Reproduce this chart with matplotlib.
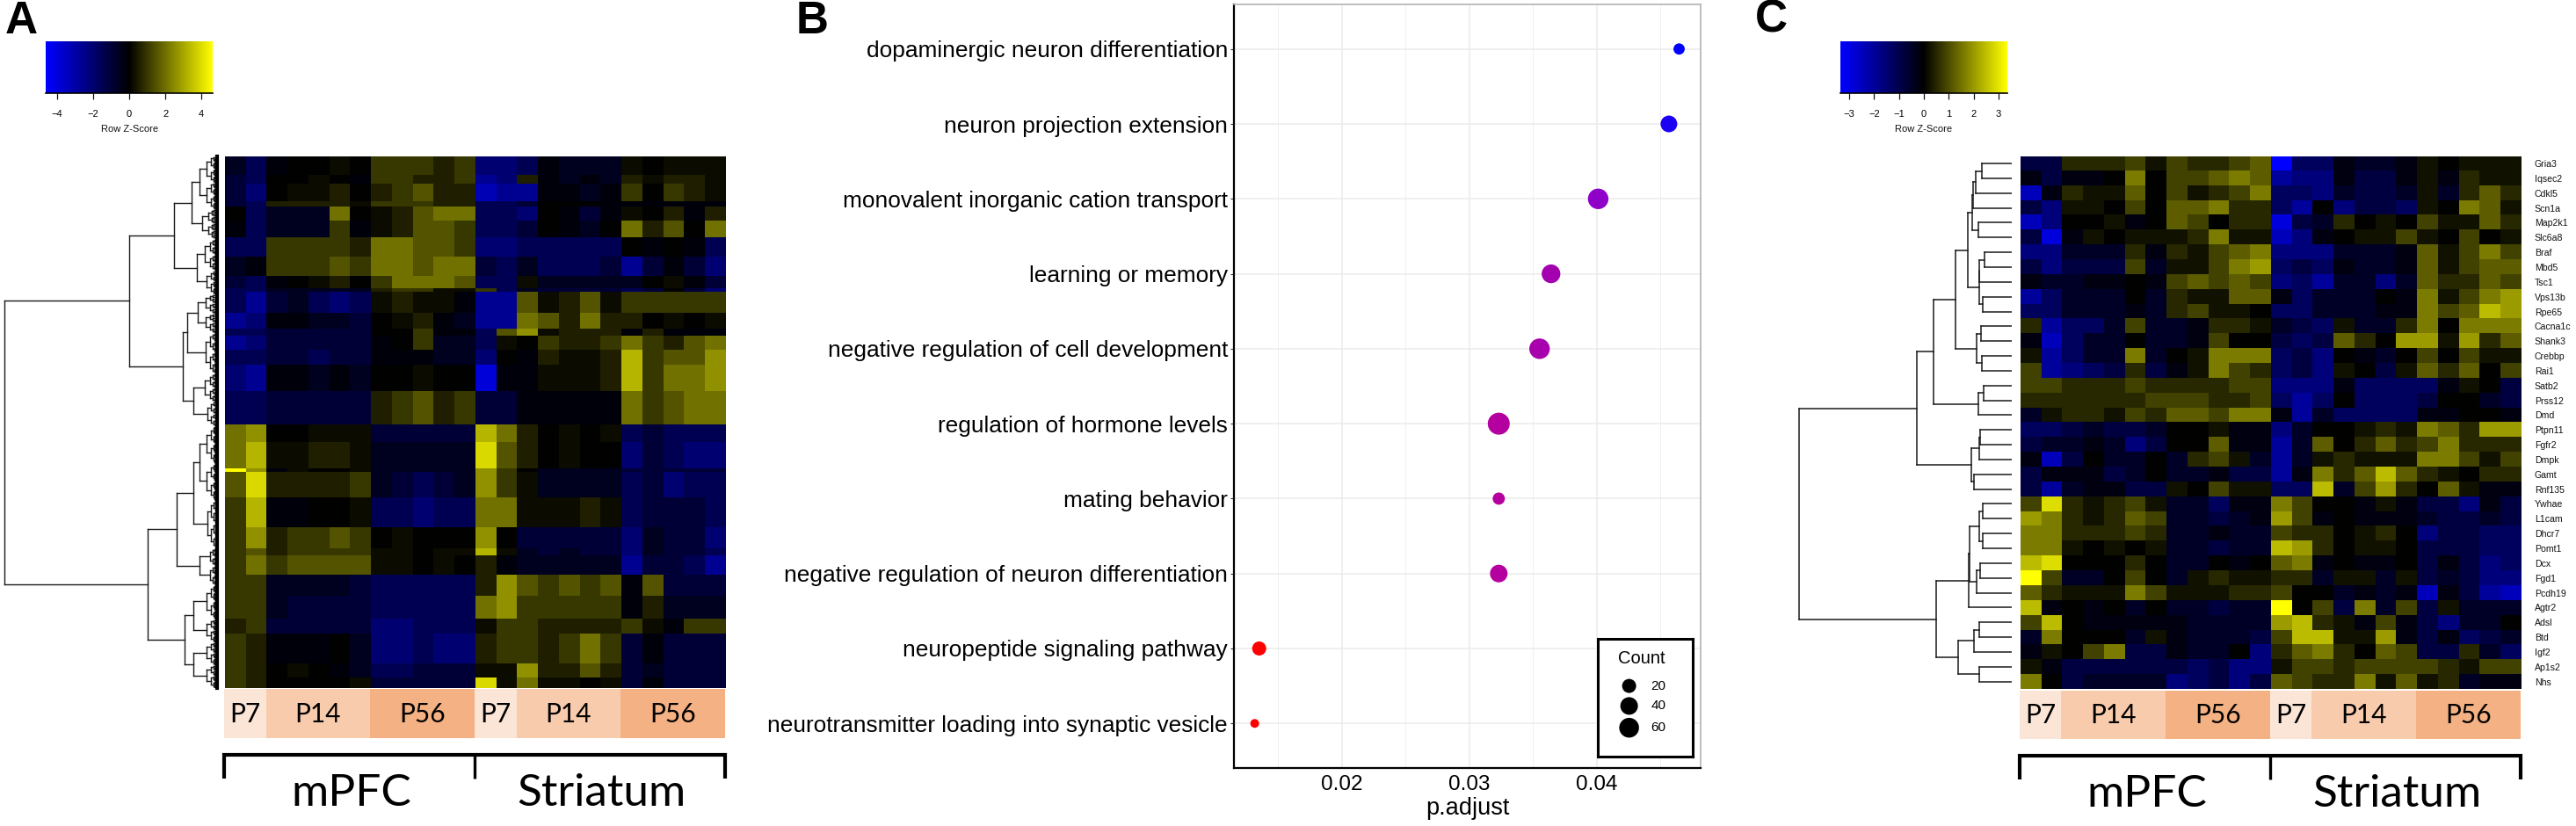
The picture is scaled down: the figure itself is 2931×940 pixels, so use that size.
import numpy as np
import matplotlib
matplotlib.use("Agg")
import matplotlib.pyplot as plt
from matplotlib.colors import LinearSegmentedColormap, Normalize
from matplotlib.cm import ScalarMappable
from matplotlib.collections import LineCollection

plt.rcParams['font.family'] = ['Liberation Sans', 'DejaVu Sans']

W, H = 2931, 940
DPI = 100

# ---------- Panel B data ----------
go_terms = ["dopaminergic neuron differentiation", "neuron projection extension",
            "monovalent inorganic cation transport", "learning or memory",
            "negative regulation of cell development", "regulation of hormone levels",
            "mating behavior", "negative regulation of neuron differentiation",
            "neuropeptide signaling pathway", "neurotransmitter loading into synaptic vesicle"]
p_adjust = [0.04645, 0.04565, 0.0401, 0.0364, 0.0355, 0.0323, 0.0323, 0.0323, 0.0135, 0.01315]
go_count = [11, 35, 70, 50, 70, 90, 14, 40, 20, 3]
legend_counts = [20, 40, 60]
size_knots_count = [3, 20, 40, 60, 90]
size_knots_px = [10, 16, 20, 22.5, 25]
padj_ticks = [0.02, 0.03, 0.04]
padj_minor = [0.015, 0.025, 0.035, 0.045]

# ---------- Shared annotation ----------
age_labels = ["P7", "P14", "P56", "P7", "P14", "P56"]
age_columns = [2, 5, 5, 2, 5, 5]
age_colors = ["#FBE5D6", "#F8CBAD", "#F4B183", "#FBE5D6", "#F8CBAD", "#F4B183"]
regions = ["mPFC", "Striatum"]

# ---------- Panel C data: colour levels, -9 (blue) ... 9 (yellow) ----------
genes_c = ["Gria3", "Iqsec2", "Cdkl5", "Scn1a", "Map2k1", "Slc6a8", "Braf", "Mbd5", "Tsc1",
           "Vps13b", "Rpe65", "Cacna1c", "Shank3", "Crebbp", "Rai1", "Satb2", "Prss12", "Dmd",
           "Ptpn11", "Fgfr2", "Dmpk", "Gamt", "Rnf135", "Ywhae", "L1cam", "Dhcr7", "Pomt1",
           "Dcx", "Fgd1", "Pcdh19", "Agtr2", "Adsl", "Btd", "Igf2", "Ap1s2", "Nhs"]
levels_c = [
 [-3,-3,2,2,2,3,1,3,2,2,3,4,-9,-4,-4,-1,-2,-2,-1,1,0,1,1,1],
 [-1,-3,-1,-1,0,5,0,3,3,4,5,4,-6,-5,-5,-1,-3,-3,-1,1,-1,2,1,1],
 [-7,-1,2,1,1,4,0,3,1,2,3,5,-4,-4,-5,-2,-3,-3,-2,1,-2,2,4,2],
 [-3,-5,1,1,0,3,0,4,4,5,2,2,-4,-6,0,-5,-3,-3,-4,1,0,5,4,1],
 [-7,-5,0,0,1,-1,0,4,3,0,2,2,-8,-3,-2,2,0,1,0,3,1,1,4,2],
 [-3,-8,-1,1,0,1,1,1,2,5,1,1,-7,-5,-1,0,1,1,3,1,0,3,0,1],
 [-5,-5,-2,-2,-2,2,-1,2,1,3,4,5,-5,-5,-5,-2,-2,-2,-1,4,1,3,5,3],
 [-3,-5,-3,-3,-3,3,-2,1,1,3,5,6,-4,-3,-4,-1,-2,-2,-1,4,1,3,4,4],
 [-1,-2,-2,-1,-1,0,-1,3,4,3,4,3,-5,-4,-6,-2,-2,-5,-2,4,2,2,4,3],
 [-6,-4,-2,-2,-2,0,-2,2,1,1,4,4,-1,-4,-2,-2,-2,0,-1,5,1,3,5,6],
 [-4,-4,-2,-2,-2,-1,-2,2,3,1,1,0,-4,-4,-2,-2,-2,-1,-1,5,3,4,7,6],
 [2,-6,-4,-4,-2,3,-2,-2,-1,2,2,1,-2,-3,-4,1,-2,-2,2,5,0,5,5,5],
 [-1,-7,-4,-2,-2,0,-2,-2,-1,3,0,0,-3,-4,-3,4,2,0,6,6,1,6,2,4],
 [1,-6,-4,-2,-2,5,-2,0,1,5,5,5,-4,-3,-5,0,-1,-2,0,3,0,3,1,1],
 [3,-6,-5,-4,-3,2,-3,-1,1,5,3,2,-4,-3,-5,1,0,-3,1,4,2,4,0,3],
 [3,3,2,2,2,3,2,2,2,2,3,3,-5,-5,-5,-1,-4,-4,-4,-4,-1,1,0,-3],
 [2,2,2,2,2,2,3,3,3,2,2,3,-4,-6,-4,0,-4,-4,-4,-3,0,0,-2,-3],
 [-2,1,2,2,1,3,2,4,4,3,5,5,-1,-6,-2,-4,-4,-4,-4,-1,-1,0,0,-1],
 [-4,-4,-3,-2,-3,-3,-2,0,0,1,-1,-1,-5,-2,0,0,1,2,1,5,4,2,6,6],
 [-3,-2,-2,-1,-2,-5,-3,0,0,4,-1,-1,-6,-2,4,0,2,4,2,3,5,2,2,2],
 [-1,-7,-3,0,-2,-2,0,-2,2,3,1,-2,-6,-2,1,2,1,1,1,5,5,3,1,3],
 [-3,-1,-1,-1,-3,-2,0,-2,-2,-1,-3,-3,-6,-1,5,2,4,7,4,2,1,0,2,2],
 [-3,-6,-2,-1,-1,-3,-3,1,0,3,1,1,-4,-4,7,-2,3,6,2,0,4,1,-1,-1],
 [3,8,2,1,2,3,1,-2,-2,-4,-1,-1,5,3,0,0,-1,1,-1,-3,-3,-5,-1,-3],
 [6,5,2,1,2,4,3,-2,-2,-3,-2,-1,6,3,-1,0,-1,-1,-1,-2,-3,-3,-2,-3],
 [5,5,2,2,2,3,2,-2,-2,-1,-2,-2,3,2,2,0,1,2,0,-5,-3,-3,-4,-4],
 [5,5,1,0,1,0,1,-2,-2,-3,-2,-2,7,6,2,0,1,1,0,-3,-3,-3,-4,-4],
 [7,8,0,0,0,2,0,-2,-2,0,-1,0,4,5,-1,0,-1,-1,0,-3,-1,-3,-5,-4],
 [9,3,-2,-2,0,3,0,-2,1,2,1,1,2,2,-2,1,1,-2,1,-3,-2,-3,-5,-5],
 [4,2,1,1,1,5,3,1,1,1,2,2,3,0,0,-2,-1,-2,-1,-7,-1,-3,-6,-7],
 [7,-1,0,-1,0,-2,0,-2,-2,-3,-2,-2,9,0,3,-3,5,-2,3,-3,1,-2,-2,-2],
 [3,7,0,-1,-1,-1,-1,-1,-2,-2,-2,-2,6,7,2,1,-1,3,-1,-3,-5,-2,-2,0],
 [-2,5,0,0,0,-2,1,-1,-2,-2,-2,-3,3,7,7,1,1,6,-1,-3,-1,-4,-3,-2],
 [-1,1,0,3,5,-3,-3,-1,-2,-2,0,-5,2,4,5,2,0,4,3,-3,-3,2,-2,-4],
 [1,-1,-3,-3,-3,-3,-3,-3,-4,-3,-5,-5,1,3,3,2,3,3,3,3,2,1,3,3],
 [5,0,-3,-2,-2,-2,-2,-5,-4,-3,-5,-3,4,3,2,2,5,1,4,1,2,-2,-1,-1],
]
# dendrogram of panel C: (merge height, child, child); ints are rows
tree_c = (242.7,
  (108.7,
    (89.3,
      (64.3,
        (50.6,
          (45.5, (44, (41, (34.8, 0, 1), 2), 3), (38.8, 4, 5)),
          (37.7, (37, (31.5, 6, 7), 8), (33, 9, 10))),
        (40.7, (35, 11, 12), (34, 13, 14))),
      (38, (32, 15, 16), 17)),
    (46, (37, (36, 18, 19), 20), (43, 21, 22))),
  (86,
    (49.3, (48.3, (37, (33, 23, 24), (33.7, 25, 26)), (40, (36.7, 27, 28), 29)), 30),
    (61, (43, (37.6, 31, 32), 33), (37.6, 34, 35))))

# ---------- Panel A data: bands of rows, colour levels per column ----------
band_rows_a = [11,5,10,3,8,9,11,11,7,2,12,9,4,8,8,15,19,
               10,15,2,14,17,12,4,11,12,13,8,17,8,6]
band_levels_a = [
 [-2,-4,-1,0,0,1,0,3,3,3,2,3,-5,-5,-4,-1,-2,-2,-2,1,0,1,1,1],
 [-3,-4,0,0,1,0,-1,3,3,2,2,3,-6,-5,2,-1,-2,-1,-2,2,1,2,2,1],
 [-3,-5,0,1,1,2,0,2,3,4,2,2,-7,-6,-6,-1,-1,-2,-1,3,0,3,2,1],
 [-3,-4,2,2,2,2,1,3,3,3,2,2,-4,-4,-3,0,0,0,-1,-1,-1,-1,-1,-1],
 [0,-4,-2,-2,-2,5,0,1,2,4,5,5,-4,-4,-5,0,-1,-3,-1,1,0,2,-1,2],
 [-1,-4,-2,-2,-2,3,-1,1,2,4,4,3,-4,-4,-3,0,-1,-2,0,5,2,4,0,5],
 [-4,-4,3,3,3,3,2,5,5,4,4,3,-5,-5,-4,-4,-4,-4,-4,0,-1,0,-1,-4],
 [-2,-1,3,3,3,4,3,5,5,4,5,5,-3,-4,-2,-4,-4,-4,-3,-6,-3,-1,-3,-5],
 [-3,-4,-1,0,1,2,0,3,5,5,5,4,-4,-4,1,-2,-2,-2,-2,-2,0,1,-1,-3],
 [-4,-4,-2,-2,-2,-2,-2,2,3,3,1,1,3,-4,-2,-3,-3,-3,-3,-4,-3,0,-3,-5],
 [-4,-6,-3,-2,-4,-5,-4,1,2,1,1,-1,-6,-6,4,1,2,4,1,3,3,3,3,3],
 [-6,-5,-1,-1,-2,-2,-3,0,1,2,-1,-2,-6,-6,5,4,2,5,2,2,0,1,0,1],
 [-4,-4,-3,-3,-3,-3,-3,0,0,3,-1,-1,-4,4,6,1,2,2,2,-1,2,-1,-1,-1],
 [-6,-5,-3,-3,-3,-3,-3,-1,0,3,-2,-2,-4,1,0,3,2,2,3,5,3,2,4,5],
 [-4,-4,-3,-3,-4,-3,-3,-1,-1,-1,-2,-2,-5,0,-1,2,1,1,2,7,3,4,4,6],
 [-5,-6,-1,-1,-2,-1,-2,0,0,1,0,0,-8,-1,-1,1,1,1,2,7,3,5,5,6],
 [-4,-4,-3,-3,-3,-3,-3,2,3,4,2,3,-3,-3,-1,-1,-1,-1,-1,5,3,4,5,5],
 [5,6,0,0,1,1,1,-3,-3,-3,-3,-3,7,5,2,0,1,0,1,-4,-3,-4,-4,-4],
 [5,7,1,1,2,2,1,-2,-2,-2,-2,-2,8,4,2,0,1,0,0,-5,-3,-4,-5,-5],
 [9,6,-1,1,0,0,1,-2,-2,-2,-2,-2,6,3,0,-2,-2,-2,-2,-3,-3,-3,-3,-3],
 [4,8,2,2,2,2,3,-2,-3,-4,-3,-2,6,3,1,-2,-2,-2,-2,-4,-3,-5,-4,-4],
 [3,7,-1,-1,0,0,1,-4,-4,-5,-4,-4,5,5,1,1,1,2,1,-4,-3,-3,-3,-4],
 [3,6,2,3,3,4,3,0,1,0,0,0,6,0,-3,-3,-3,-3,-3,-5,-2,-3,-3,-5],
 [3,4,2,3,3,3,3,1,1,0,1,1,7,1,-2,-3,-2,-3,-3,-5,-2,-3,-3,-4],
 [3,5,3,4,4,4,4,1,1,0,1,0,2,-1,-2,-2,-2,-2,-2,-6,-3,-3,-4,-6],
 [3,3,-2,-2,-2,-2,-3,-4,-4,-4,-4,-4,2,6,4,3,4,3,4,-1,4,-3,-3,-3],
 [3,3,-2,-3,-3,-3,-3,-4,-4,-4,-4,-4,5,6,3,3,3,3,3,-1,2,-2,-2,-2],
 [2,3,-3,-3,-3,-3,-3,-5,-5,-4,-4,-4,1,3,3,2,2,2,2,3,1,-1,3,3],
 [3,2,-1,-1,-1,0,-2,-5,-5,-4,-5,-5,2,3,3,2,3,5,3,-3,-1,-3,-3,-3],
 [3,2,0,1,0,-1,-2,-4,-4,-3,-3,-3,1,1,6,2,2,4,2,-3,-2,-3,-3,-3],
 [3,2,0,0,0,0,1,-3,-3,-3,-3,-3,8,1,5,1,1,0,1,-3,-1,-3,-3,-3],
]
# dendrogram of panel A: fans are [first row, last row, height]
tree_a = (242,
  (100,
    (49,
      (28.7, [0, 30, 20], [30, 47, 17]),
      (23, [47, 65, 14], [65, 78, 12])),
    (39,
      (34, [78, 100, 22], [100, 123, 12.6]),
      (27.5, [123, 139, 14], [139, 153, 11.5]))),
  (79,
    (46.5,
      (27, [153, 195, 20], [195, 222, 11.5]),
      (20, [222, 232, 8], [232, 243, 8])),
    (37,
      (27.5, [243, 262, 12], [262, 275, 12]),
      (27.5, [275, 288, 12], [288, 301, 12]))))

zscale_a = 4.63
zscale_c = 3.35
ticks_a = [-4, -2, 0, 2, 4]
ticks_c = [-3, -2, -1, 0, 1, 2, 3]
level_gamma_a = 1.4
level_gamma_c = 1.25

heat_cmap = LinearSegmentedColormap.from_list("byy", ["#0000ff", "#000000", "#ffff00"])
padj_cmap = LinearSegmentedColormap.from_list(
    "rb", [(0, "#ff0000"), (0.58, "#b400a0"), (0.70, "#a400b0"), (0.81, "#9000c8"),
           (0.97, "#2200f0"), (1, "#0000ff")])

fig = plt.figure(figsize=(W / DPI, H / DPI), dpi=DPI, facecolor="white")


def ax_px(x0, y0, x1, y1, **kw):
    return fig.add_axes([x0 / W, 1 - y1 / H, (x1 - x0) / W, (y1 - y0) / H], **kw)


def txt_px(x, y, s, **kw):
    kw.setdefault("ha", "center")
    kw.setdefault("va", "center")
    fig.text(x / W, 1 - y / H, s, **kw)


def levels_to_z(levels, zscale, gamma):
    arr = np.array(levels, float)
    return np.sign(arr) * (np.abs(arr) / 9) ** gamma * zscale


def tree_segments(node, segs):
    """returns (row position, height) of the node and appends its lines"""
    if isinstance(node, int):
        return node + 0.5, 0.0
    if isinstance(node, list):
        first, last, h = node
        if last - first <= 1:
            return first + 0.5, 0.0
        mid = (first + last) // 2
        return tree_segments((h, [first, mid, h * 0.6], [mid, last, h * 0.6]), segs)
    h, a, b = node
    ya, ha = tree_segments(a, segs)
    yb, hb = tree_segments(b, segs)
    segs.append([(ha, ya), (h, ya)])
    segs.append([(hb, yb), (h, yb)])
    segs.append([(h, ya), (h, yb)])
    return (ya + yb) / 2, h


def heat_panel(x0, x1, y0, y1, data, zscale, tree, tree_x0, tree_x1, tree_nrows, tree_lw):
    ax = ax_px(x0, y0, x1, y1)
    ax.imshow(data, cmap=heat_cmap, vmin=-zscale, vmax=zscale, aspect="auto",
              interpolation="nearest")
    ax.set_xticks([])
    ax.set_yticks([])
    for s in ax.spines.values():
        s.set_visible(False)
    dax = ax_px(tree_x0, y0, tree_x1, y1)
    segs = []
    tree_segments(tree, segs)
    dax.add_collection(LineCollection(segs, colors="#1a1a1a", linewidths=tree_lw,
                                      capstyle="projecting"))
    dax.set_xlim(tree_x1 - tree_x0, 0)
    dax.set_ylim(tree_nrows, 0)
    dax.axis("off")
    return ax, dax


def colorbar(x0, x1, zscale, ticks):
    cax = ax_px(x0, 46.7, x1, 106)
    sm = ScalarMappable(norm=Normalize(-zscale, zscale), cmap=heat_cmap)
    cb = fig.colorbar(sm, cax=cax, orientation="horizontal", ticks=ticks)
    cb.outline.set_visible(False)
    cax.tick_params(axis="x", length=5, width=0.9, labelsize=8, pad=9, color="#111111")
    cax.axhline(0, color="black", lw=1.2, clip_on=False)
    txt_px((x0 + x1) / 2, 147, "Row Z-Score", fontsize=8, color="#111111")


def strip_and_bracket(x0, x1, y0, y1, by0, by1, text_y, centers):
    sax = ax_px(x0, y0, x1, y1)
    left = 0
    for lab, n, col in zip(age_labels, age_columns, age_colors):
        sax.barh(0, n, left=left, height=1, color=col, linewidth=0)
        sax.text(left + n / 2, -0.02, lab, ha="center", va="center", family="Lato",
                 fontsize=21.5, color="black")
        left += n
    sax.set_xlim(0, left)
    sax.set_ylim(-0.5, 0.5)
    sax.axis("off")
    bax = ax_px(x0, by0, x1, by1)
    mid = sum(age_columns) / 2
    bax.plot([0, 0, 2 * mid, 2 * mid], [1, 0, 0, 1], color="black", lw=3, clip_on=False,
             solid_joinstyle="miter", solid_capstyle="butt")
    bax.plot([mid, mid], [0, 1], color="black", lw=2.4, clip_on=False, solid_capstyle="butt")
    bax.set_xlim(0, 2 * mid)
    bax.set_ylim(1, 0)
    bax.axis("off")
    for name, c in zip(regions, centers):
        txt_px(c, text_y, name, family="Lato", fontsize=37, color="black")


# ---------- Panel A ----------
mat_a = np.repeat(levels_to_z(band_levels_a, zscale_a, level_gamma_a), band_rows_a, axis=0)
_, dax_a = heat_panel(256, 825.5, 177.7, 783, mat_a, zscale_a, tree_a, 0, 247, sum(band_rows_a), 1.0)
dax_a.axvline(0, color="black", lw=3, clip_on=False)
colorbar(52.2, 242, zscale_a, ticks_a)
strip_and_bracket(255, 825, 784, 840, 859, 886, 903, [400, 684])

# ---------- Panel C ----------
mat_c = levels_to_z(levels_c, zscale_c, level_gamma_c)
ax_c, _ = heat_panel(2299, 2868.6, 177.7, 784, mat_c, zscale_c, tree_c, 0, 2289.3, len(genes_c), 1.1)
ax_c.yaxis.tick_right()
ax_c.set_yticks(range(len(genes_c)), genes_c, fontsize=7.6, color="#111111")
ax_c.tick_params(axis="y", length=0, pad=11)
colorbar(2094, 2284, zscale_c, ticks_c)
strip_and_bracket(2298, 2867.5, 785.7, 841, 860, 887, 904, [2443, 2727.5])

# ---------- Panel B ----------
bx = ax_px(1404, 5, 1935, 874)
d_px = np.interp(go_count, size_knots_count, size_knots_px)
rows = np.arange(len(go_terms))
bx.scatter(p_adjust, rows, s=(d_px * 72 / DPI) ** 2, c=p_adjust, cmap=padj_cmap,
           vmin=min(p_adjust), vmax=max(p_adjust), linewidths=0, zorder=3)
bx.set_xlim(0.01152, 0.04814)
bx.set_ylim(len(go_terms) - 1 + 0.595, -0.595)
bx.set_xticks(padj_ticks, [f"{v:.2f}" for v in padj_ticks])
bx.set_xticks(padj_minor, minor=True)
bx.set_yticks(rows, go_terms)
bx.grid(True, which="major", color="#ebebeb", lw=1.1)
bx.grid(True, which="minor", axis="x", color="#f0f0f0", lw=0.7)
bx.set_axisbelow(True)
bx.tick_params(axis="y", length=3, width=0.8, labelsize=18.9, pad=2, color="#333333")
bx.tick_params(axis="x", length=0, labelsize=17.5, pad=6)
bx.tick_params(axis="x", which="minor", length=0)
bx.set_xlabel("p.adjust", fontsize=19.5, labelpad=2)
for side in ("top", "right"):
    bx.spines[side].set_color("#b3b3b3")
    bx.spines[side].set_linewidth(1.2)
for side in ("left", "bottom"):
    bx.spines[side].set_color("black")
    bx.spines[side].set_linewidth(1.6)

lx = ax_px(1818, 727, 1926, 861)
lx.scatter([0.33] * len(legend_counts), [0.6, 0.43, 0.245],
           s=(np.interp(legend_counts, size_knots_count, size_knots_px) * 72 / DPI) ** 2,
           c="black", linewidths=0)
for yy, c in zip([0.6, 0.43, 0.245], legend_counts):
    lx.text(0.56, yy, str(c), fontsize=11, va="center", ha="left")
lx.text(0.46, 0.835, "Count", fontsize=14.5, ha="center", va="center")
lx.set_xlim(0, 1)
lx.set_ylim(0, 1)
lx.set_xticks([])
lx.set_yticks([])
lx.set_zorder(5)
for s in lx.spines.values():
    s.set_linewidth(2.2)

# ---------- Panel letters ----------
txt_px(24.5, 24, "A", fontsize=37, fontweight="bold")
txt_px(924, 25, "B", fontsize=37, fontweight="bold")
txt_px(2015, 23, "C", fontsize=37, fontweight="bold")

fig.savefig("out.png", dpi=DPI, facecolor="white")
